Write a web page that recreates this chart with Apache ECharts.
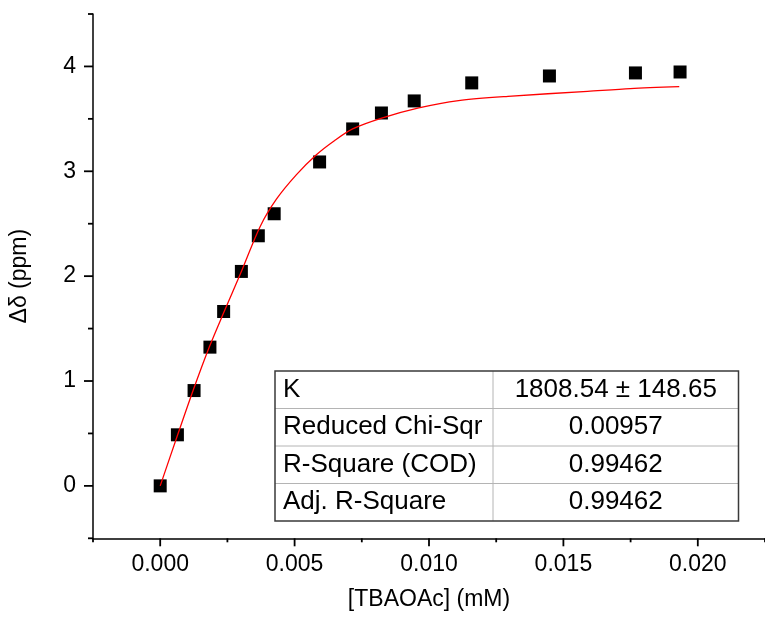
<!DOCTYPE html>
<html>
<head>
<meta charset="utf-8">
<script src="https://cdn.jsdelivr.net/npm/echarts@6/dist/echarts.min.js"></script>
<style>
html,body{margin:0;padding:0;background:#fff;}
#c{width:765px;height:619px;}
</style>
</head>
<body>
<div id="c"></div>
<script>
// Measured data (concentration in mM, shift in ppm)
const concX = [0, 0.00064, 0.00126, 0.00185, 0.00236, 0.00302, 0.00365, 0.00424, 0.00593, 0.00716, 0.00823, 0.00945, 0.01159, 0.01448, 0.01768, 0.01934];
const shiftY = [0, 0.487, 0.909, 1.323, 1.663, 2.045, 2.385, 2.595, 3.089, 3.404, 3.556, 3.671, 3.843, 3.909, 3.938, 3.947];
// Fit curve
const fitX = [0, 0.00065, 0.00124, 0.00183, 0.00236, 0.00302, 0.00372, 0.00433, 0.00507, 0.00581, 0.00648, 0.00716, 0.00827, 0.00962, 0.0111, 0.01294, 0.0159, 0.01749, 0.01931];
const fitY = [0, 0.487, 0.921, 1.326, 1.651, 2.044, 2.474, 2.736, 2.968, 3.158, 3.292, 3.404, 3.509, 3.604, 3.674, 3.715, 3.762, 3.788, 3.807];
// Ticks
const xMajor = [0, 0.005, 0.010, 0.015, 0.020];
const xMinor = [-0.0025, 0.0025, 0.0075, 0.0125, 0.0175, 0.0225];
const yMajor = [0, 1, 2, 3, 4];
const yMinor = [-0.5, 0.5, 1.5, 2.5, 3.5, 4.5];
// Fit statistics table
const tableLabels = ['K', 'Reduced Chi-Sqr', 'R-Square (COD)', 'Adj. R-Square'];
const tableValues = ['1808.54 \u00b1 148.65', '0.00957', '0.99462', '0.99462'];

const FONT = 'Liberation Sans, Arial, sans-serif';
const X_MIN = -0.0025, X_MAX = 0.0225, Y_MIN = -0.5, Y_MAX = 4.5;
const chart = echarts.init(document.getElementById('c'), null, {renderer: 'canvas'});

chart.setOption({
  animation: false,
  backgroundColor: '#fff',
  textStyle: {fontFamily: FONT},
  grid: {left: 91.7, top: 14, width: 677.5, height: 524.3, containLabel: false},
  xAxis: {
    type: 'value', min: X_MIN, max: X_MAX, position: 'bottom',
    splitLine: {show: false},
    axisLine: {show: true, onZero: false, lineStyle: {color: '#000', width: 1.5}},
    axisTick: {show: false},
    axisLabel: {show: true, customValues: xMajor, margin: 15, fontSize: 23, color: '#000', fontFamily: FONT, formatter: v => v.toFixed(3)},
    name: '[TBAOAc] (mM)', nameLocation: 'middle', nameGap: 50,
    nameTextStyle: {fontSize: 23, color: '#000', fontFamily: FONT}
  },
  yAxis: {
    type: 'value', min: Y_MIN, max: Y_MAX, position: 'left',
    splitLine: {show: false},
    axisLine: {show: true, onZero: false, lineStyle: {color: '#000', width: 1.5}},
    axisTick: {show: false},
    axisLabel: {show: true, customValues: yMajor, margin: 17, fontSize: 23, color: '#000', fontFamily: FONT},
    name: '\u0394\u03b4 (ppm)', nameLocation: 'middle', nameGap: 62, nameRotate: 90,
    nameTextStyle: {fontSize: 23, color: '#000', fontFamily: FONT}
  },
  series: [
    {
      type: 'line',
      data: fitX.map((x, i) => [x, fitY[i]]),
      showSymbol: false, smooth: 0.3, lineStyle: {color: '#ff0000', width: 1.3}, z: 3
    },
    {
      type: 'scatter',
      data: concX.map((x, i) => [x, shiftY[i]]),
      symbol: 'rect', symbolSize: 13, itemStyle: {color: '#000', opacity: 1}, z: 2
    }
  ]
});

// Axis ticks placed through the chart's own scales
const graphics = [];
const axisY = chart.convertToPixel({yAxisIndex: 0}, Y_MIN);
const axisX = chart.convertToPixel({xAxisIndex: 0}, X_MIN);
function xTick(v, len, w) {
  const p = chart.convertToPixel({xAxisIndex: 0}, v);
  graphics.push({type: 'rect', shape: {x: p - w / 2, y: axisY, width: w, height: len}, style: {fill: '#000'}, z: 500, zlevel: 1});
}
function yTick(v, len, w) {
  const p = chart.convertToPixel({yAxisIndex: 0}, v);
  graphics.push({type: 'rect', shape: {x: axisX - len, y: p - w / 2, width: len, height: w}, style: {fill: '#000'}, z: 500, zlevel: 1});
}
xMajor.forEach(v => xTick(v, 8, 1.8));
xMinor.forEach(v => xTick(v, 4, 1.8));
yMajor.forEach(v => yTick(v, 9, 1.8));
yMinor.forEach(v => yTick(v, 5, 1.8));

// Table
const tL = 275, tR = 738.5, tT = 371, rowH = 37.5, colX = 493;
const tB = tT + rowH * tableLabels.length;
graphics.push({type: 'rect', shape: {x: tL, y: tT, width: tR - tL, height: tB - tT}, style: {fill: '#fff', stroke: 'none'}, z: 100});
for (let i = 1; i < tableLabels.length; i++) {
  graphics.push({type: 'line', shape: {x1: tL, y1: tT + rowH * i, x2: tR, y2: tT + rowH * i}, style: {stroke: '#b4b4b4', lineWidth: 1}, z: 101});
}
graphics.push({type: 'line', shape: {x1: colX, y1: tT, x2: colX, y2: tB}, style: {stroke: '#b4b4b4', lineWidth: 1}, z: 101});
graphics.push({type: 'rect', shape: {x: tL, y: tT, width: tR - tL, height: tB - tT}, style: {fill: 'none', stroke: '#3a3a3a', lineWidth: 1.5}, z: 102});
tableLabels.forEach((t, i) => {
  graphics.push({type: 'text', x: tL + 8, y: tT + rowH * i + rowH / 2, style: {text: t, font: '26px ' + FONT, fill: '#000', textAlign: 'left', textVerticalAlign: 'middle'}, z: 103});
  graphics.push({type: 'text', x: (colX + tR) / 2, y: tT + rowH * i + rowH / 2, style: {text: tableValues[i], font: '26px ' + FONT, fill: '#000', textAlign: 'center', textVerticalAlign: 'middle'}, z: 103});
});

chart.setOption({graphic: graphics});
</script>
</body>
</html>
